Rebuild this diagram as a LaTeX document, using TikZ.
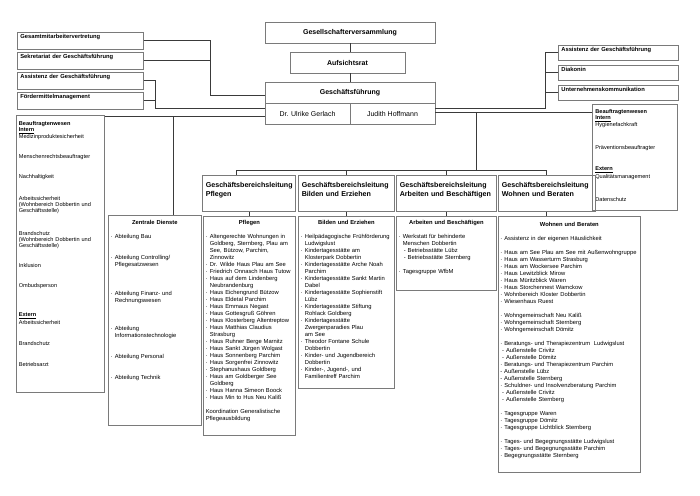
\documentclass[tikz,border=0pt]{standalone}
\usepackage{fontspec}
\setmainfont{Liberation Sans}
\usetikzlibrary{calc}
\definecolor{boxgray}{HTML}{7A7A7A}
\definecolor{linegray}{HTML}{3A3A3A}
\newcommand\itm{\makebox[4pt][l]{·}}
\newcommand\cnt{\hspace*{4pt}}
\newcommand\fsItem{\fontsize{5.8}{7}\selectfont}
\newcommand\fsSmall{\fontsize{5.6}{6}\selectfont}
\newcommand\hdr[1]{\makebox[\linewidth][c]{\bfseries #1}}
\begin{document}
\begin{tikzpicture}[x=1pt,y=-1pt,
  bx/.style={draw=boxgray, line width=0.7pt, inner sep=0pt},
  con/.style={draw=linegray, line width=0.9pt},
  topbox/.style={bx, font=\fontsize{7}{8}\selectfont\bfseries, minimum height=21pt},
  namebox/.style={bx, font=\fontsize{7}{8}\selectfont, minimum width=85pt, minimum height=21pt},
  leftbox/.style={bx, anchor=north west, inner xsep=3pt, text width=120pt, text height=6.5pt, text depth=10.5pt, align=left, font=\fontsize{5.8}{7}\selectfont\bfseries},
  rightbox/.style={bx, anchor=north west, inner xsep=3pt, text width=114pt, text height=6pt, text depth=9pt, align=left, font=\fontsize{5.8}{7}\selectfont\bfseries},
  gbl/.style={bx, anchor=north west, inner xsep=3.5pt, text height=12pt, text depth=24pt, align=left, font=\fontsize{7.1}{9}\selectfont\bfseries},
  listbox/.style={bx, anchor=north west, inner xsep=2.5pt, align=left, font=\fsItem},
]
\useasboundingbox (0,0) rectangle (700,495);

% top chain
\node[topbox, minimum width=170pt] (gv) at (350,32.5) {Gesellschafterversammlung};
\node[topbox, minimum width=115pt] (ar) at (347.5,62.5) {Aufsichtsrat};
\node[topbox, minimum width=170pt] (gf) at (350,92.5) {Geschäftsführung};
\node[namebox] (gfa) at (307.5,113.5) {Dr. Ulrike Gerlach};
\node[namebox] (gfb) at (392.5,113.5) {Judith Hoffmann};

% left staff boxes
\node[leftbox] (l1) at (17,32) {Gesamtmitarbeitervertretung};
\node[leftbox] (l2) at (17,52) {Sekretariat der Geschäftsführung};
\node[leftbox] (l3) at (17,72) {Assistenz der Geschäftsführung};
\node[leftbox] (l4) at (17,92) {Fördermittelmanagement};

% right staff boxes
\node[rightbox] (r1) at (558,45) {Assistenz der Geschäftsführung};
\node[rightbox] (r2) at (558,65) {Diakonin};
\node[rightbox] (r3) at (558,85) {Unternehmenskommunikation};

% Beauftragtenwesen left
\node[listbox, font=\fsSmall, text width=83pt, text height=10.5pt, text depth=266.5pt] (lb) at (16,115) {%
\textbf{Beauftragtenwesen}\\
\textbf{\underline{Intern}}\\
Medizinproduktesicherheit\\[14pt]
Menschenrechtsbeauftragter\\[14pt]
Nachhaltigkeit\\[16pt]
Arbeitssicherheit\\
(Wohnbereich Dobbertin und\\
Geschäftsstelle)\\[17pt]
Brandschutz\\
(Wohnbereich Dobbertin und\\
Geschäftsstelle)\\[14pt]
Inklusion\\[14pt]
Ombudsperson\\[23pt]
\textbf{\underline{Extern}}\\
Arbeitssicherheit\\[15pt]
Brandschutz\\[15pt]
Betriebsarzt};

% Beauftragtenwesen right
\node[listbox, font=\fsSmall, inner xsep=3pt, text width=79pt, text height=9.5pt, text depth=96.5pt] (rb) at (592,104) {%
\textbf{Beauftragtenwesen}\\
\textbf{\underline{Intern}}\\
Hygienefachkraft\\[17pt]
Präventionsbeauftragter\\[15pt]
\textbf{\underline{Extern}}\\
Qualitätsmanagement\\[17pt]
Datenschutz};

% Geschaeftsbereichsleitungen
\node[gbl, text width=86pt] (g1) at (202,175) {Geschäftsbereichsleitung\\Pflegen};
\node[gbl, text width=89pt] (g2) at (298,175) {Geschäftsbereichsleitung\\Bilden und Erziehen};
\node[gbl, text width=93pt] (g3) at (396,175) {Geschäftsbereichsleitung\\Arbeiten und Beschäftigen};
\node[gbl, text width=90pt] (g4) at (498,175) {Geschäftsbereichsleitung\\Wohnen und Beraten};

% Zentrale Dienste
\node[listbox, text width=88pt, text height=9.5pt, text depth=200.5pt] (zd) at (108,215) {%
\hdr{Zentrale Dienste}\\[7pt]
\itm Abteilung Bau\\[14pt]
\itm Abteilung Controlling/\\
\cnt Pflegesatzwesen\\[22pt]
\itm Abteilung Finanz- und\\
\cnt Rechnungswesen\\[21pt]
\itm Abteilung\\
\cnt Informationstechnologie\\[14pt]
\itm Abteilung Personal\\[14pt]
\itm Abteilung Technik};

% Pflegen
\node[listbox, text width=87pt, text height=8.5pt, text depth=210.5pt] (pf) at (203,216) {%
\hdr{Pflegen}\\[7pt]
\itm Altengerechte Wohnungen in\\
\cnt Goldberg, Sternberg, Plau am\\
\cnt See, Bützow, Parchim,\\
\cnt Zinnowitz\\
\itm Dr. Wilde Haus Plau am See\\
\itm Friedrich Onnasch Haus Tutow\\
\itm Haus auf dem Lindenberg\\
\cnt Neubrandenburg\\
\itm Haus Eichengrund Bützow\\
\itm Haus Eldetal Parchim\\
\itm Haus Emmaus Negast\\
\itm Haus Gottesgruß Göhren\\
\itm Haus Klosterberg Altentreptow\\
\itm Haus Matthias Claudius\\
\cnt Strasburg\\
\itm Haus Ruhner Berge Marnitz\\
\itm Haus Sankt Jürgen Wolgast\\
\itm Haus Sonnenberg Parchim\\
\itm Haus Sorgenfrei Zinnowitz\\
\itm Stephanushaus Goldberg\\
\itm Haus am Goldberger See\\
\cnt Goldberg\\
\itm Haus Hanna Simeon Boock\\
\itm Haus Min to Hus Neu Kaliß\\[7pt]
Koordination Generalistische\\
Pflegeausbildung};

% Bilden und Erziehen
\node[listbox, text width=91pt, text height=8.5pt, text depth=163.5pt] (be) at (298,216) {%
\hdr{Bilden und Erziehen}\\[7pt]
\itm Heilpädagogische Frühförderung\\
\cnt Ludwigslust\\
\itm Kindertagesstätte am\\
\cnt Klosterpark Dobbertin\\
\itm Kindertagesstätte Arche Noah\\
\cnt Parchim\\
\itm Kindertagesstätte Sankt Martin\\
\cnt Dabel\\
\itm Kindertagesstätte Sophienstift\\
\cnt Lübz\\
\itm Kindertagesstätte Stiftung\\
\cnt Rohlack Goldberg\\
\itm Kindertagesstätte\\
\cnt Zwergenparadies Plau\\
\cnt am See\\
\itm Theodor Fontane Schule\\
\cnt Dobbertin\\
\itm Kinder- und Jugendbereich\\
\cnt Dobbertin\\
\itm Kinder-, Jugend-, und\\
\cnt Familientreff Parchim};

% Arbeiten und Beschaeftigen
\node[listbox, text width=95pt, text height=8.5pt, text depth=65.5pt] (ab) at (396,216) {%
\hdr{Arbeiten und Beschäftigen}\\[7pt]
\itm Werkstatt für behinderte\\
\cnt Menschen Dobbertin\\
\cnt\hspace*{1pt}- Betriebsstätte Lübz\\
\cnt\hspace*{1pt}- Betriebsstätte Sternberg\\[7pt]
\itm Tagesgruppe WfbM};

% Wohnen und Beraten
\node[listbox, inner xsep=2pt, text width=138pt, text height=10.5pt, text depth=245.5pt] (wo) at (498,216) {%
\hdr{Wohnen und Beraten}\\[7pt]
\itm Assistenz in der eigenen Häuslichkeit\\[7pt]
\itm Haus am See Plau am See mit Außenwohngruppe\\
\itm Haus am Wasserturm Strasburg\\
\itm Haus am Wockersee Parchim\\
\itm Haus Lewitzblick Mirow\\
\itm Haus Müritzblick Waren\\
\itm Haus Storchennest Wamckow\\
\itm Wohnbereich Kloster Dobbertin\\
\itm Wiesenhaus Ruest\\[7pt]
\itm Wohngemeinschaft Neu Kaliß\\
\itm Wohngemeinschaft Sternberg\\
\itm Wohngemeinschaft Dömitz\\[7pt]
\itm Beratungs- und Therapiezentrum\ \ Ludwigslust\\
\hspace*{1.8pt}- Außenstelle Crivitz\\
\hspace*{1.8pt}- Außenstelle Dömitz\\
\itm Beratungs- und Therapiezentrum Parchim\\
- Außenstelle Lübz\\
- Außenstelle Sternberg\\
\itm Schuldner- und Insolvenzberatung Parchim\\
\hspace*{1.8pt}- Außenstelle Crivitz\\
\hspace*{1.8pt}- Außenstelle Sternberg\\[7pt]
\itm Tagesgruppe Waren\\
\itm Tagesgruppe Dömitz\\
\itm Tagesgruppe Lichtblick Sternberg\\[7pt]
\itm Tages- und Begegnungsstätte Ludwigslust\\
\itm Tages- und Begegnungsstätte Parchim\\
\itm Begegnungsstätte Sternberg};

% junction coordinates
\coordinate (jl) at (210,95);
\coordinate (jm) at (155,108);
\coordinate (jz) at (173,116);
\coordinate (jr) at (545,108);
\coordinate (jb) at (476,112);
\coordinate (bus) at (476,170);
\coordinate (b1) at (236,170);

% connectors
\draw[con] (gv.south) -- (gv.south |- ar.north);
\draw[con] (ar.south -| gv.south) -- (gf.north);
\draw[con] (l1.east) -| (jl) -- (jl -| gf.west);
\draw[con] (l2.east) -| (jl);
\draw[con] (l3.east) -| (jm) -- (jm -| gfa.west);
\draw[con] (l4.east) -| (jm);
\draw[con] (gfa.west |- jz) -- (lb.east |- jz);
\draw[con] (jz) -- (jz |- zd.north);
\draw[con] (gfb.east |- jr) -- (jr) |- (r3.west);
\draw[con] (jr) |- (r2.west);
\draw[con] (jr) |- (r1.west);
\draw[con] (gfb.east |- jb) -- (rb.west |- jb);
\draw[con] (jb) -- (bus);
\draw[con] (b1) -- (g4.north |- bus);
\draw[con] (b1) -- (b1 |- g1.north);
\draw[con] (g2.north |- bus) -- (g2.north);
\draw[con] (g3.north |- bus) -- (g3.north);
\draw[con] (g4.north |- bus) -- (g4.north);
\draw[con] (pf.north |- g1.south) -- (pf.north);
\draw[con] (g2.south) -- (g2.south |- be.north);
\draw[con] (g3.south) -- (g3.south |- ab.north);
\draw[con] (g4.south) -- (g4.south |- wo.north);
\end{tikzpicture}
\end{document}
